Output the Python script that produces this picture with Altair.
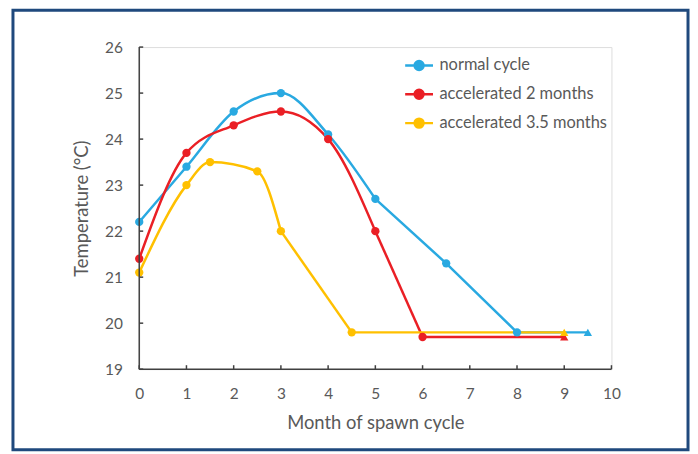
import altair as alt
import pandas as pd

series_names = ["normal cycle", "accelerated 2 months", "accelerated 3.5 months"]
series_colors = ["#29A9E1", "#EA1F25", "#FFC000"]

normal_month = [0, 1, 2, 3, 4, 5, 6.5, 8]
normal_temp = [22.2, 23.4, 24.6, 25.0, 24.1, 22.7, 21.3, 19.8]
acc2_month = [0, 1, 2, 3, 4, 5, 6]
acc2_temp = [21.4, 23.7, 24.3, 24.6, 24.0, 22.0, 19.7]
acc35_month = [0, 1, 1.5, 2.5, 3, 4.5]
acc35_temp = [21.1, 23.0, 23.5, 23.3, 22.0, 19.8]

# number of leading points drawn with a smoothed curve (rest straight)
smooth_points = [6, 6, 5]

# holding segments (flat) ending with triangle markers
normal_hold_month = [8, 9.5]
normal_hold_temp = [19.8, 19.8]
acc2_hold_month = [6, 9]
acc2_hold_temp = [19.7, 19.7]
acc35_hold_month = [4.5, 9]
acc35_hold_temp = [19.8, 19.8]

x_ticks = list(range(0, 11))
y_ticks = list(range(19, 27))

W, H = 475, 324
FONT = "Lato"
GRAY = "#595959"


def frame(name, months, temps):
    return pd.DataFrame({"series": name, "month": months, "temp": temps})


series_data = [
    (series_names[0], normal_month, normal_temp, smooth_points[0]),
    (series_names[1], acc2_month, acc2_temp, smooth_points[1]),
    (series_names[2], acc35_month, acc35_temp, smooth_points[2]),
]
main = pd.concat([frame(n, m, t) for n, m, t, _ in series_data])
smooth = pd.concat([frame(n, m[:k], t[:k]) for n, m, t, k in series_data])
straight = pd.concat([frame(n, m[k - 1:], t[k - 1:]) for n, m, t, k in series_data])
hold = pd.concat([
    frame(series_names[0], normal_hold_month, normal_hold_temp),
    frame(series_names[1], acc2_hold_month, acc2_hold_temp),
    frame(series_names[2], acc35_hold_month, acc35_hold_temp),
])
ends = hold.groupby("series", as_index=False).last()

xs = alt.Scale(domain=[0, 10], nice=False)
ys = alt.Scale(domain=[19, 26], nice=False)
color = alt.Color(
    "series:N",
    scale=alt.Scale(domain=series_names, range=series_colors),
    legend=alt.Legend(
        title=None,
        orient="none",
        legendX=266,
        legendY=3,
        symbolType="M-1,0H1M-0.32,0A0.32,0.32,0,1,1,0.32,0A0.32,0.32,0,1,1,-0.32,0Z",
        symbolSize=784,
        symbolStrokeWidth=2.5,
        labelFont=FONT,
        labelFontSize=16.5,
        labelColor=GRAY,
        labelOffset=5,
        labelLimit=400,
        rowPadding=4,
        padding=0,
    ),
)

x_enc = alt.X(
    "month:Q", scale=xs,
    axis=alt.Axis(values=x_ticks, title="Month of spawn cycle", grid=False, ticks=False,
                  domain=False, labelFlush=False, labelPadding=17, titlePadding=12,
                  labelFont=FONT, labelFontSize=15.5, labelColor=GRAY, titleFont=FONT,
                  titleFontSize=18.5, titleColor=GRAY, titleFontWeight="normal"),
)
y_enc = alt.Y(
    "temp:Q", scale=ys,
    axis=alt.Axis(values=y_ticks, title="Temperature (°C)", grid=False, ticks=False,
                  domain=False, labelPadding=17, titlePadding=13, labelFont=FONT,
                  labelFontSize=15.5, labelColor=GRAY, titleFont=FONT, titleFontSize=18.5,
                  titleColor=GRAY, titleFontWeight="normal"),
)

border = alt.Chart(pd.DataFrame({"b": [0]})).mark_rect(
    fill="transparent", stroke="#1F497D", strokeWidth=3
).encode(x=alt.value(-127), x2=alt.value(552), y=alt.value(-37), y2=alt.value(405))

lines = alt.Chart(smooth).mark_line(interpolate="monotone", strokeWidth=2.5).encode(
    x=x_enc, y=y_enc, color=color, order=alt.Order("month:Q")
)
straight_lines = alt.Chart(straight).mark_line(strokeWidth=2.5).encode(
    x="month:Q", y="temp:Q", color=alt.Color("series:N", legend=None), detail="series:N",
    order=alt.Order("month:Q")
)
points = alt.Chart(main).mark_point(filled=True, size=70, opacity=1).encode(
    x="month:Q", y="temp:Q", color=alt.Color("series:N", legend=None)
)
hold_lines = alt.Chart(hold).mark_line(strokeWidth=2.5).encode(
    x="month:Q", y="temp:Q", color=alt.Color("series:N", legend=None), detail="series:N"
)
tris = alt.Chart(ends).mark_point(filled=True, shape="triangle-up", size=70, opacity=1).encode(
    x="month:Q", y="temp:Q", color=alt.Color("series:N", legend=None)
)

xt = alt.Chart(pd.DataFrame({"t": x_ticks})).mark_rule(color="#404040", strokeWidth=1.5).encode(
    x=alt.X("t:Q", scale=xs), y=alt.value(H), y2=alt.value(H - 4)
)
yt = alt.Chart(pd.DataFrame({"t": y_ticks})).mark_rule(color="#404040", strokeWidth=1.5).encode(
    y=alt.Y("t:Q", scale=ys), x=alt.value(0), x2=alt.value(4)
)
left_dom = alt.Chart(pd.DataFrame({"b": [0]})).mark_rule(color="#404040", strokeWidth=1.5).encode(
    x=alt.value(0), y=alt.value(0), y2=alt.value(H)
)
bot_dom = alt.Chart(pd.DataFrame({"b": [0]})).mark_rule(color="#404040", strokeWidth=1.5).encode(
    x=alt.value(0), x2=alt.value(W), y=alt.value(H)
)

chart = alt.layer(border, lines, straight_lines, hold_lines, points, tris, xt, yt, left_dom, bot_dom).properties(
    width=W, height=H,
    autosize=alt.AutoSizeParams(type="none"),
    padding={"left": 132, "top": 38, "right": 79, "bottom": 82},
).configure_view(stroke="#595959", strokeWidth=1.2).configure(background="white")

chart.save("out.html", embed_options={"renderer": "svg", "actions": False})
